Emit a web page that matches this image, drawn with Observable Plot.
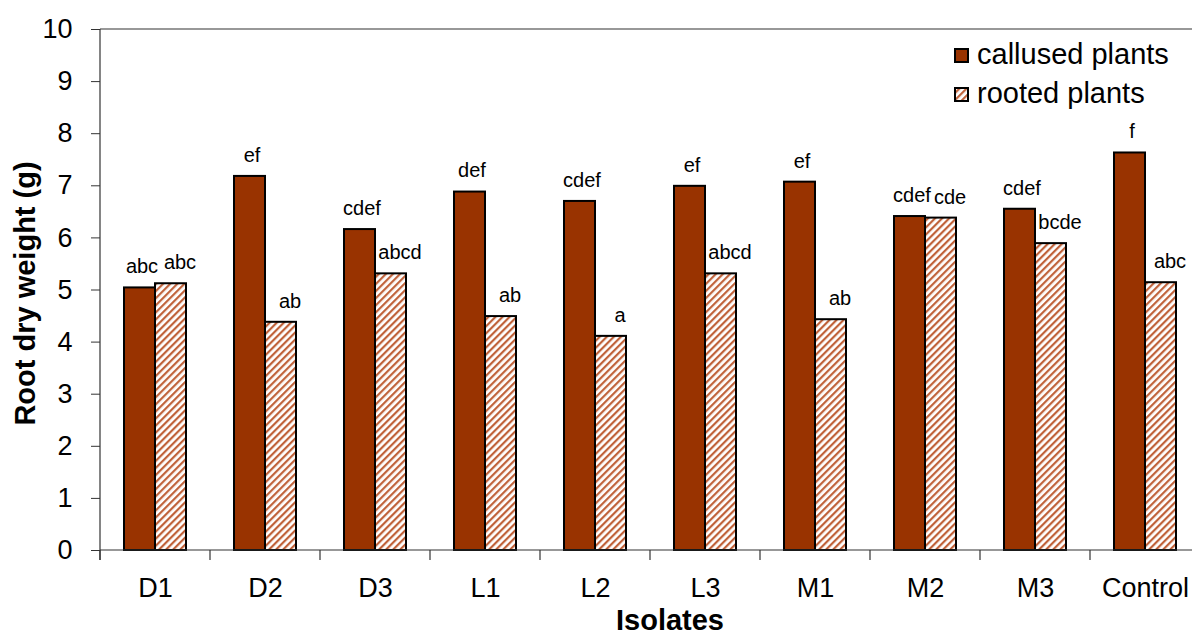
<!DOCTYPE html>
<html><head><meta charset="utf-8">
<script src="https://cdn.jsdelivr.net/npm/d3@7"></script>
<script src="https://cdn.jsdelivr.net/npm/@observablehq/plot@0.6"></script>
<style>
body{margin:0;overflow:hidden;background:#fff;font-family:"Liberation Sans",Arial,sans-serif;}
#wrap{position:relative;width:1192px;height:635px;overflow:hidden;}
#wrap svg{max-width:none !important;}
</style></head><body><div id="wrap"></div>
<script>
const isolates = ["D1","D2","D3","L1","L2","L3","M1","M2","M3","Control"];
const series = ["callused plants","rooted plants"];
const callused = [5.04,7.18,6.16,6.88,6.70,6.99,7.07,6.41,6.55,7.63];
const rooted = [5.12,4.38,5.31,4.49,4.11,5.31,4.43,6.38,5.89,5.14];
const callusedLetters = ["abc","ef","cdef","def","cdef","ef","ef","cdef","cdef","f"];
const rootedLetters = ["abc","ab","abcd","ab","a","abcd","ab","cde","bcde","abc"];
const yTicks = [0,1,2,3,4,5,6,7,8,9,10];
const brown = "#993300";
const stripe = "#c0623a";

const dataC = isolates.map((iso,i)=>({iso, series:series[0], value:callused[i], letter:callusedLetters[i]}));
const dataR = isolates.map((iso,i)=>({iso, series:series[1], value:rooted[i], letter:rootedLetters[i]}));

const plot = Plot.plot({
  width:1200, height:635, marginLeft:100, marginRight:0, marginTop:29, marginBottom:85,
  style:{fontFamily:"Liberation Sans, Arial, sans-serif", fontSize:"27px", color:"#000", background:"#fff", overflow:"visible", maxWidth:"none"},
  fx:{domain:isolates, padding:0, label:null},
  x:{domain:series, paddingInner:0, paddingOuter:0.77, axis:null},
  y:{domain:[0,10], label:null},
  marks:[
    Plot.axisY({ticks:yTicks, tickSize:9, tickPadding:19, label:null, stroke:"#333", fontSize:27}),
    Plot.axisFx({anchor:"bottom", tickSize:0, tickPadding:27, label:null, fontSize:27}),
    Plot.barY(dataC, {fx:"iso", x:"series", y:"value", fill:brown, stroke:"#000", strokeWidth:2}),
    Plot.barY(dataR, {fx:"iso", x:"series", y:"value", fill:"url(#stripes)", stroke:"#000", strokeWidth:2}),
    Plot.text(dataC, {fx:"iso", x:"series", y:"value", text:"letter", dy:-21, dx:2, fontSize:20, fill:"#000"}),
    Plot.text(dataR, {fx:"iso", x:"series", y:"value", text:"letter", dy:-21, dx:9, fontSize:20, fill:"#000"})
  ]
});

const svg = d3.select(plot);
const defs = svg.insert("defs", ":first-child");
const pat = defs.append("pattern").attr("id","stripes").attr("patternUnits","userSpaceOnUse")
  .attr("width",5).attr("height",5).attr("patternTransform","rotate(45)");
pat.append("rect").attr("width",5).attr("height",5).attr("fill","#fff");
pat.append("rect").attr("width",2.2).attr("height",5).attr("fill",stripe);

const y = plot.scale("y"), fx = plot.scale("fx");
const y0 = y.apply(0), y10 = y.apply(10);
const x0 = fx.range[0], x1 = fx.range[1];
const g = svg.append("g").attr("stroke","#333").attr("stroke-width",1.2).attr("fill","none");
g.append("line").attr("x1",x0).attr("x2",x0).attr("y1",y10).attr("y2",y0+10);
g.append("line").attr("x1",x0).attr("x2",x1).attr("y1",y10).attr("y2",y10);
g.append("line").attr("x1",x0).attr("x2",x1).attr("y1",y0).attr("y2",y0);
isolates.forEach(iso=>{
  const xb = fx.apply(iso);
  g.append("line").attr("x1",xb).attr("x2",xb).attr("y1",y0).attr("y2",y0+10);
});
svg.append("text").attr("transform",`translate(35,${(y0+y10)/2+4}) rotate(-90)`)
  .attr("text-anchor","middle").attr("font-weight","bold").attr("font-size",29).attr("fill","#000")
  .text("Root dry weight (g)");
svg.append("text").attr("x",670).attr("y",630).attr("text-anchor","middle")
  .attr("font-weight","bold").attr("font-size",29).attr("fill","#000").text("Isolates");

// legend
const leg = svg.append("g").attr("font-size",29).attr("fill","#000").attr("text-anchor","start");
const legendItems = [{label:series[0], fill:brown, top:49}, {label:series[1], fill:"url(#stripes)", top:88}];
legendItems.forEach(it=>{
  leg.append("rect").attr("x",955).attr("y",it.top).attr("width",13).attr("height",13)
    .attr("fill",it.fill).attr("stroke","#000").attr("stroke-width",2);
  leg.append("text").attr("x",977).attr("y",it.top+15).attr("text-anchor","start").text(it.label);
});

document.getElementById("wrap").appendChild(plot);
</script></body></html>
